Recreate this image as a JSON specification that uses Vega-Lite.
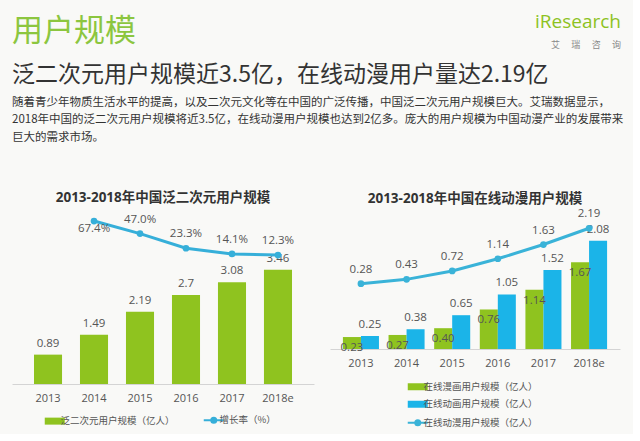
{
  "$schema": "https://vega.github.io/schema/vega-lite/v6.json",
  "background": "#f9f9f7",
  "padding": {"left": 12, "top": 13, "right": 8, "bottom": 4},
  "config": {
    "font": "Open Sans, Noto Sans CJK SC",
    "view": {"stroke": null},
    "legend": {"layout": {"bottom": {"anchor": "middle"}}},
    "axisX": {"labelAngle": 0, "title": null, "ticks": false, "grid": false, "domainColor": "#d4d4d4", "labelFontSize": 11, "labelColor": "#555555", "labelPadding": 8}
  },
  "datasets": {
    "fanSize": [
      {"year": "2013", "value": 0.89},
      {"year": "2014", "value": 1.49},
      {"year": "2015", "value": 2.19},
      {"year": "2016", "value": 2.7},
      {"year": "2017", "value": 3.08},
      {"year": "2018e", "value": 3.46}
    ],
    "fanGrowth": [
      {"year": "2014", "rate": 0.674},
      {"year": "2015", "rate": 0.47},
      {"year": "2016", "rate": 0.233},
      {"year": "2017", "rate": 0.141},
      {"year": "2018e", "rate": 0.123}
    ],
    "onlineBars": [
      {"year": "2013", "series": "在线漫画用户规模（亿人）", "value": 0.23},
      {"year": "2013", "series": "在线动画用户规模（亿人）", "value": 0.25},
      {"year": "2014", "series": "在线漫画用户规模（亿人）", "value": 0.27},
      {"year": "2014", "series": "在线动画用户规模（亿人）", "value": 0.38},
      {"year": "2015", "series": "在线漫画用户规模（亿人）", "value": 0.40},
      {"year": "2015", "series": "在线动画用户规模（亿人）", "value": 0.65},
      {"year": "2016", "series": "在线漫画用户规模（亿人）", "value": 0.76},
      {"year": "2016", "series": "在线动画用户规模（亿人）", "value": 1.05},
      {"year": "2017", "series": "在线漫画用户规模（亿人）", "value": 1.14},
      {"year": "2017", "series": "在线动画用户规模（亿人）", "value": 1.52},
      {"year": "2018e", "series": "在线漫画用户规模（亿人）", "value": 1.67},
      {"year": "2018e", "series": "在线动画用户规模（亿人）", "value": 2.08}
    ],
    "onlineTotal": [
      {"year": "2013", "value": 0.28},
      {"year": "2014", "value": 0.43},
      {"year": "2015", "value": 0.72},
      {"year": "2016", "value": 1.14},
      {"year": "2017", "value": 1.63},
      {"year": "2018e", "value": 2.19}
    ]
  },
  "spacing": 12,
  "vconcat": [
    {
      "spacing": 0,
      "hconcat": [
        {
          "width": 470, "height": 1,
          "title": {"text": "用户规模", "anchor": "start", "fontSize": 31, "fontWeight": "normal", "color": "#8cc63f", "font": "Noto Sans CJK SC", "offset": 2},
          "data": {"values": []},
          "mark": "text"
        },
        {
          "width": 143, "height": 1,
          "title": {"text": "iResearch", "subtitle": "艾　 瑞　 咨　 询", "anchor": "end", "dx": -4, "fontSize": 19, "fontWeight": "normal", "color": "#8dc21f", "subtitleFontSize": 9, "subtitleColor": "#888888", "subtitlePadding": 9, "offset": 0},
          "data": {"values": []},
          "mark": "text"
        }
      ]
    },
    {
      "title": {
        "text": "泛二次元用户规模近3.5亿，在线动漫用户量达2.19亿",
        "subtitle": [
          "随着青少年物质生活水平的提高，以及二次元文化等在中国的广泛传播，中国泛二次元用户规模巨大。艾瑞数据显示，",
          "2018年中国的泛二次元用户规模将近3.5亿，在线动漫用户规模也达到2亿多。庞大的用户规模为中国动漫产业的发展带来",
          "巨大的需求市场。"
        ],
        "anchor": "start",
        "fontSize": 23,
        "fontWeight": "normal",
        "color": "#333333",
        "font": "Noto Sans CJK SC",
        "subtitleFont": "Noto Sans CJK SC",
        "subtitleFontSize": 11.5,
        "subtitleColor": "#333333",
        "subtitleLineHeight": 17.5,
        "subtitlePadding": 10,
        "offset": 48
      },
      "spacing": 16,
      "resolve": {"scale": {"color": "independent"}, "legend": {"color": "independent"}},
      "hconcat": [
        {
          "width": 302,
          "height": 165,
          "title": {"text": "2013-2018年中国泛二次元用户规模", "anchor": "middle", "fontSize": 13.5, "fontWeight": "bold", "color": "#333333", "offset": 9},
          "resolve": {"scale": {"y": "independent"}},
          "layer": [
            {
              "data": {"name": "fanSize"},
              "mark": {"type": "bar"},
              "encoding": {
                "x": {"field": "year", "type": "nominal", "sort": null, "scale": {"paddingInner": 0.39, "paddingOuter": 0.478}},
                "y": {"field": "value", "type": "quantitative", "scale": {"domain": [0, 5]}, "axis": null},
                "color": {
                  "datum": "泛二次元用户规模（亿人）",
                  "scale": {"domain": ["泛二次元用户规模（亿人）", "增长率（%）"], "range": ["#8fc31f", "#36afd9"]},
                  "legend": {
                    "title": null, "orient": "bottom", "direction": "horizontal", "offset": 12,
                    "symbolSize": 400, "symbolType": "M-1,-0.35H1V0.35H-1Z",
                    "labelFontSize": 9.5, "labelColor": "#555555", "labelFont": "Noto Sans CJK SC", "columnPadding": 24, "labelOffset": 1,
                    "encode": {"symbols": {"update": {
                      "shape": {"signal": "datum.value === '增长率（%）' ? 'M-1,0H1M0.25,0A0.25,0.25,0,1,1,-0.25,0A0.25,0.25,0,1,1,0.25,0' : 'M-1,-0.35H1V0.35H-1Z'"},
                      "fill": {"signal": "datum.value === '增长率（%）' ? '#36afd9' : '#8fc31f'"},
                      "stroke": {"signal": "datum.value === '增长率（%）' ? '#36afd9' : '#8fc31f'"},
                      "strokeWidth": {"signal": "datum.value === '增长率（%）' ? 2 : 0"},
                      "opacity": {"value": 1}
                    }}}
                  }
                }
              }
            },
            {
              "data": {"name": "fanSize"},
              "mark": {"type": "text", "dy": -11, "fontSize": 11.5, "color": "#555555"},
              "encoding": {
                "x": {"field": "year", "type": "nominal", "sort": null},
                "y": {"field": "value", "type": "quantitative", "scale": {"domain": [0, 5]}, "axis": null},
                "text": {"field": "value", "type": "quantitative"}
              }
            },
            {
              "data": {"name": "fanGrowth"},
              "mark": {"type": "line", "strokeWidth": 3, "point": {"filled": true, "size": 45}},
              "encoding": {
                "x": {"field": "year", "type": "nominal", "sort": null},
                "y": {"field": "rate", "type": "quantitative", "scale": {"domain": [-1.968, 0.707]}, "axis": null},
                "color": {"datum": "增长率（%）"}
              }
            },
            {
              "data": {"name": "fanGrowth"},
              "transform": [{"filter": "datum.year !== '2014'"}],
              "mark": {"type": "text", "dy": -14, "fontSize": 11.5, "color": "#555555"},
              "encoding": {
                "x": {"field": "year", "type": "nominal", "sort": null},
                "y": {"field": "rate", "type": "quantitative", "scale": {"domain": [-1.968, 0.707]}, "axis": null},
                "text": {"field": "rate", "type": "quantitative", "format": ".1%"}
              }
            },
            {
              "data": {"name": "fanGrowth"},
              "transform": [{"filter": "datum.year === '2014'"}],
              "mark": {"type": "text", "dy": 8, "fontSize": 11.5, "color": "#555555"},
              "encoding": {
                "x": {"field": "year", "type": "nominal", "sort": null},
                "y": {"field": "rate", "type": "quantitative", "scale": {"domain": [-1.968, 0.707]}, "axis": null},
                "text": {"field": "rate", "type": "quantitative", "format": ".1%"}
              }
            }
          ]
        },
        {
          "width": 290,
          "height": 130,
          "title": {"text": "2013-2018年中国在线动漫用户规模", "anchor": "middle", "fontSize": 13.5, "fontWeight": "bold", "color": "#333333", "offset": 3},
          "resolve": {"scale": {"y": "independent"}},
          "layer": [
            {
              "data": {"name": "onlineBars"},
              "mark": {"type": "bar"},
              "encoding": {
                "x": {"field": "year", "type": "nominal", "sort": null, "scale": {"paddingInner": 0.21, "paddingOuter": 0.283}},
                "xOffset": {"field": "series", "type": "nominal", "sort": ["在线漫画用户规模（亿人）", "在线动画用户规模（亿人）"], "scale": {"paddingInner": 0, "paddingOuter": 0}},
                "y": {"field": "value", "type": "quantitative", "scale": {"domain": [0, 2.5]}, "axis": null},
                "color": {
                  "field": "series", "type": "nominal",
                  "scale": {"domain": ["在线漫画用户规模（亿人）", "在线动画用户规模（亿人）", "在线动漫用户规模（亿人）"], "range": ["#8fc31f", "#1bb4e8", "#3ab3d8"]},
                  "legend": {
                    "title": null, "orient": "bottom", "direction": "vertical", "offset": 14,
                    "symbolSize": 400, "symbolType": "M-1,-0.35H1V0.35H-1Z",
                    "labelFontSize": 9.5, "labelColor": "#555555", "labelFont": "Noto Sans CJK SC", "rowPadding": 6.5, "labelOffset": 1,
                    "encode": {"symbols": {"update": {
                      "shape": {"signal": "datum.value === '在线动漫用户规模（亿人）' ? 'M-1,0H1M0.25,0A0.25,0.25,0,1,1,-0.25,0A0.25,0.25,0,1,1,0.25,0' : 'M-1,-0.35H1V0.35H-1Z'"},
                      "fill": {"signal": "datum.value === '在线动漫用户规模（亿人）' ? '#3ab3d8' : datum.value === '在线漫画用户规模（亿人）' ? '#8fc31f' : '#1bb4e8'"},
                      "stroke": {"signal": "datum.value === '在线动漫用户规模（亿人）' ? '#3ab3d8' : datum.value === '在线漫画用户规模（亿人）' ? '#8fc31f' : '#1bb4e8'"},
                      "strokeWidth": {"signal": "datum.value === '在线动漫用户规模（亿人）' ? 2 : 0"},
                      "opacity": {"value": 1}
                    }}}
                  }
                }
              }
            },
            {
              "data": {"name": "onlineBars"},
              "transform": [{"filter": "datum.series === '在线动画用户规模（亿人）'"}],
              "mark": {"type": "text", "dy": -11, "fontSize": 11.5, "color": "#555555"},
              "encoding": {
                "x": {"field": "year", "type": "nominal", "sort": null},
                "xOffset": {"field": "series", "type": "nominal", "sort": ["在线漫画用户规模（亿人）", "在线动画用户规模（亿人）"]},
                "y": {"field": "value", "type": "quantitative", "scale": {"domain": [0, 2.5]}, "axis": null},
                "text": {"field": "value", "type": "quantitative", "format": ".2f"}
              }
            },
            {
              "data": {"name": "onlineBars"},
              "transform": [{"filter": "datum.series === '在线漫画用户规模（亿人）'"}],
              "mark": {"type": "text", "dy": 11, "fontSize": 11.5, "color": "#555555"},
              "encoding": {
                "x": {"field": "year", "type": "nominal", "sort": null},
                "xOffset": {"field": "series", "type": "nominal", "sort": ["在线漫画用户规模（亿人）", "在线动画用户规模（亿人）"]},
                "y": {"field": "value", "type": "quantitative", "scale": {"domain": [0, 2.5]}, "axis": null},
                "text": {"field": "value", "type": "quantitative", "format": ".2f"}
              }
            },
            {
              "data": {"name": "onlineTotal"},
              "mark": {"type": "line", "strokeWidth": 3, "point": {"filled": true, "size": 45}},
              "encoding": {
                "x": {"field": "year", "type": "nominal", "sort": null},
                "y": {"field": "value", "type": "quantitative", "scale": {"domain": [-1.97, 2.51]}, "axis": null},
                "color": {"datum": "在线动漫用户规模（亿人）"}
              }
            },
            {
              "data": {"name": "onlineTotal"},
              "mark": {"type": "text", "dy": -14, "fontSize": 11.5, "color": "#555555"},
              "encoding": {
                "x": {"field": "year", "type": "nominal", "sort": null},
                "y": {"field": "value", "type": "quantitative", "scale": {"domain": [-1.97, 2.51]}, "axis": null},
                "text": {"field": "value", "type": "quantitative", "format": ".2f"}
              }
            }
          ]
        }
      ]
    }
  ]
}
